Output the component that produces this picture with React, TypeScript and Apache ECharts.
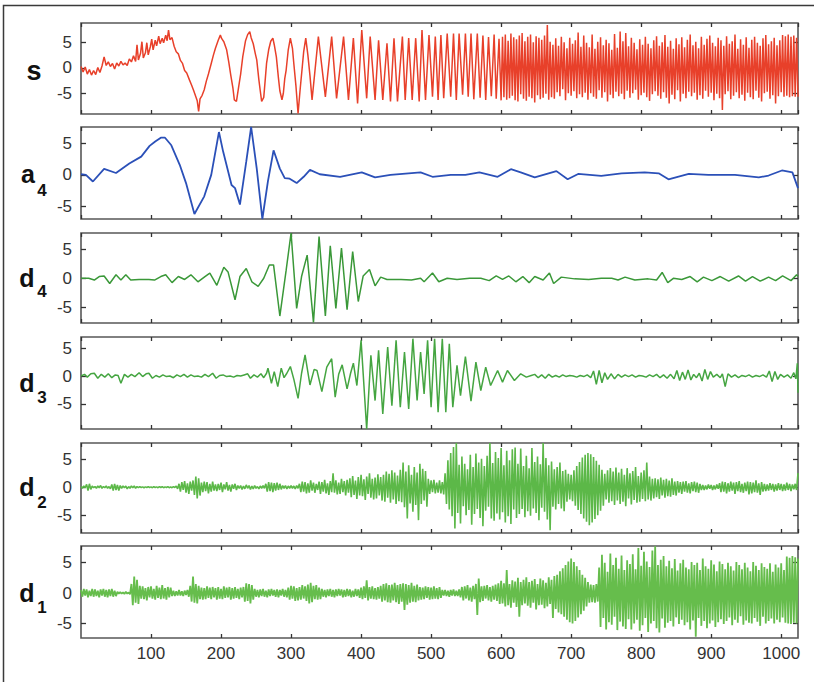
import React, { useEffect, useRef } from "react";
import * as echarts from "echarts";

const FONT = "'Liberation Sans', Arial, sans-serif";
const X_MIN = 0;
const X_MAX = 1024;
const X_INTERVAL = 100;
const Y_TICKS = [-5, 0, 5];
const STEP = 2;

const PANEL_NAMES = ["s", "a", "d", "d", "d", "d"];
const PANEL_SUBS = ["", "4", "4", "3", "2", "1"];
const Y_MIN = [-9.1, -7.0, -7.7, -9.5, -8.2, -7.4];
const Y_MAX = [8.9, 7.6, 7.8, 7.0, 7.9, 7.75];
const COLORS = ["#e8402a", "#2b50b8", "#3a9838", "#45a541", "#5cb848", "#66bd4c"];

// s : read vertices (sample index, value) up to 600, then dense part every 2 samples
const sHead: [number, number][] = [
  [0,0.3],[3,-0.8],[6,0.2],[9,-1.2],[12,-0.3],[15,-1.4],[18,-0.5],[21,-1.3],[24,0.1],[27,-0.9],
  [30,0.4],[33,2.2],[36,0.5],[39,1.2],[42,0.3],[45,0.9],[48,-0.2],[51,1.0],[54,0.4],[57,1.3],
  [60,0.6],[63,1.0],[66,0.5],[69,1.8],[72,1.2],[75,2.4],[78,1.3],[80,4.6],[82,1.6],[85,2.9],
  [87,5.2],[89,2.0],[92,3.0],[94,5.0],[96,2.6],[99,4.2],[101,5.7],[103,3.6],[106,5.5],[108,4.4],
  [111,6.3],[113,4.8],[116,5.9],[118,5.0],[121,6.5],[123,5.4],[125,7.5],[127,5.6],[130,6.0],[133,4.3],
  [136,3.2],[139,2.8],[142,1.5],[145,0.9],[148,-0.5],[151,-1.0],[155,-2.4],[158,-3.4],[161,-4.5],[164,-5.7],
  [166,-6.5],[168,-8.6],[170,-6.1],[173,-5.4],[176,-4.3],[179,-2.6],[182,-1.2],[186,0.9],[189,2.5],[192,3.9],
  [196,5.5],[199,6.5],[201,5.8],[204,5.2],[208,3.6],[211,1.2],[214,-1.5],[217,-4.0],[219,-6.3],[222,-6.6],
  [225,-3.9],[228,-1.2],[231,2.2],[235,5.4],[238,6.6],[241,7.2],[243,6.0],[246,4.8],[249,2.8],[251,1.6],
  [254,-2.3],[256,-4.5],[258,-6.6],[261,-5.8],[263,-2.5],[265,0.9],[268,3.6],[271,5.3],[274,5.9],[276,4.6],
  [279,2.2],[282,-2.0],[284,-4.5],[287,-6.3],[289,-5.0],[291,-2.1],[293,-0.4],[296,3.6],[299,5.9],[302,3.9],
  [304,0.8],[307,-3.6],[310,-9.0],[313,-4.2],[316,0.2],[318,3.2],[321,5.9],[324,2.6],[327,-1.5],[330,-6.3],
  [339,6.2],[349,-5.7],[358,6.2],[365,-6.0],[375,6.2],[382,-6.3],[389,5.9],[395,-7.0],[401,7.5],[408,-6.0],
  [413,6.2],[420,-6.3],[425,5.5],[431,-6.3],[437,4.9],[442,-6.6],[447,5.9],[452,-6.6],[459,6.2],[463,-6.3],
  [468,5.9],[473,-6.3],[478,5.9],[483,-6.6],[487,7.5],[492,-6.3],[497,6.5],[502,-5.7],[506,6.2],[510,-6.3],
  [514,6.5],[518,-6.0],[523,6.8],[528,-5.7],[532,6.8],[536,-6.3],[540,6.8],[545,-5.3],[549,6.8],[553,-5.7],
  [557,6.8],[561,-6.2],[566,6.8],[570,-5.9],[574,6.4],[578,-6.3],[582,6.1],[586,-5.6],[590,6.6],[593,-6.1],
  [597,5.8],[600,-6.4],
];
const S_TAIL_START = 602;
const sTail: number[] = [
  6.2,-5.8,6.6,-6.3,5.4,-6.0,6.8,-5.5,6.1,-6.4,
  5.7,-6.6,6.4,-5.2,6.9,-6.1,5.3,-6.5,6.2,-5.7,
  6.6,-6.0,5.1,-6.8,6.3,-5.4,6.0,-6.2,5.6,-5.9,
  6.4,-5.1,8.5,-6.3,5.2,-5.8,4.6,-6.1,5.9,-4.8,
  4.4,-5.6,6.2,-4.2,5.1,-6.4,3.9,-5.0,6.0,-5.5,
  4.8,-4.6,5.5,-6.0,7.0,-5.2,4.2,-5.8,6.4,-4.9,
  5.0,-6.3,4.1,-5.0,6.6,-5.7,3.8,-6.1,5.2,-4.4,
  6.1,-5.9,4.5,-4.8,5.6,-6.6,4.9,-5.3,3.6,-6.0,
  6.7,-4.7,4.0,-5.6,7.2,-5.1,5.3,-6.2,6.9,-4.5,
  4.3,-5.9,6.0,-5.0,5.0,-4.3,3.7,-6.3,5.7,-5.4,
  4.6,-4.9,6.2,-5.8,4.8,-6.5,3.9,-5.2,5.5,-4.6,
  6.3,-5.5,4.4,-6.1,5.1,-4.8,6.5,-5.9,4.2,-7.0,
  5.4,-5.3,3.8,-6.2,5.9,-4.4,4.7,-6.6,6.1,-5.1,
  4.1,-6.0,5.6,-4.7,6.6,-5.6,4.5,-4.9,5.2,-6.3,
  3.9,-5.4,6.2,-6.1,4.6,-4.5,5.8,-5.7,6.4,-4.9,
  5.0,-6.4,4.3,-5.1,6.0,-6.0,5.5,-8.3,4.4,-5.2,
  6.3,-4.6,4.8,-6.2,5.3,-5.5,6.6,-4.8,3.8,-6.0,
  5.7,-5.3,4.6,-6.5,6.1,-4.9,4.0,-5.8,5.6,-6.2,
  6.2,-4.5,5.0,-5.9,4.4,-6.6,5.9,-5.0,6.5,-4.7,
  4.7,-6.1,5.3,-5.4,6.0,-7.0,4.5,-5.6,5.5,-4.8,
  6.5,-5.7,6.3,-5.5,6.6,-5.8,6.2,-5.6,6.4,-5.7,
  6.0,-5.7,
];

// a4 : read vertices
const a4: [number, number][] = [
  [0,0.1],[7,0],[17,-1.05],[33,0.95],[50,0.3],[69,1.8],[86,2.9],[98,4.6],[106,5.3],[114,5.9],
  [120,5.9],[129,4.7],[141,1.6],[150,-1.3],[162,-6.2],[176,-3.4],[186,0],[197,6.8],[203,3.7],[215,-1.6],
  [220,-2.1],[227,-4.7],[236,2.1],[243,7.6],[251,1.0],[259,-7.0],[267,-1.0],[275,3.9],[284,1.0],[291,-0.5],
  [298,-0.6],[308,-1.3],[318,-0.3],[327,0.8],[341,0.1],[370,-0.3],[401,0.4],[420,-0.4],[442,0],[485,0.4],
  [502,-0.3],[528,0],[549,0],[569,0.4],[595,-0.3],[614,0.9],[628,0.4],[648,-0.4],[679,0.6],[695,-0.7],
  [710,0.15],[743,-0.15],[772,0.25],[805,0.4],[825,0.25],[839,-0.7],[868,0.15],[896,0],[934,0],[968,-0.4],
  [982,-0.1],[1001,0.7],[1016,0.4],[1024,-2.1],
];

// d4 : read vertices
const d4: [number, number][] = [
  [0,0],[11,0],[19,-0.3],[26,0.3],[33,0.4],[41,-0.9],[50,0.6],[57,-0.3],[64,0.6],[71,-0.3],
  [83,-0.2],[97,-0.2],[105,-0.3],[114,0.3],[121,0.6],[130,-0.75],[139,0.3],[148,-0.2],[157,0.6],[167,-0.6],
  [177,0.3],[184,0.9],[194,-1.2],[204,1.9],[210,1.1],[220,-3.7],[227,0.3],[236,1.7],[244,-0.6],[253,-1.4],
  [261,0],[269,2.3],[275,2.3],[284,-6.5],[293,1.4],[300,7.8],[308,-5.2],[315,0.3],[323,4.0],[332,-7.6],
  [340,7.2],[349,-6.5],[356,5.6],[364,-5.2],[372,5.2],[380,-5.4],[388,4.6],[396,-4.0],[403,0.4],[412,1.5],
  [420,-1.3],[428,0.2],[437,-0.2],[457,-0.2],[472,-0.3],[485,0],[490,-0.6],[502,0.9],[511,-0.6],[523,0],
  [537,-0.2],[555,0],[571,0],[583,-0.4],[593,0.4],[602,-0.2],[611,0.4],[621,-0.6],[631,0.3],[640,-0.75],
  [648,0.3],[660,-0.3],[669,0.9],[675,-0.9],[686,0.2],[705,-0.1],[725,-0.2],[743,0],[758,0],[767,-0.3],
  [777,0.2],[791,-0.3],[810,-0.1],[822,-0.3],[830,1.0],[838,-0.75],[846,0],[858,-0.2],[870,0.3],[880,-0.6],
  [889,0.2],[901,-0.4],[913,0.3],[925,-0.5],[939,0.4],[949,-0.5],[959,0.3],[970,-0.5],[982,0.2],[992,-0.4],
  [1002,0.4],[1014,-0.4],[1022,0.6],[1024,0.3],
];

// d3 : read vertices
const d3: [number, number][] = [
  [0,0],[5,0.3],[9,-0.2],[14,0.4],[19,0.5],[24,-0.4],[29,0.3],[34,-0.2],[39,0.4],[44,-0.3],
  [49,0.2],[53,0.1],[57,-1.3],[62,0.3],[67,-0.2],[72,0.3],[77,-0.1],[83,0.6],[88,-0.1],[93,0.4],
  [97,0.5],[102,-0.4],[107,0.1],[112,-0.2],[117,0.2],[122,-0.1],[127,0],[132,-0.3],[137,0.2],[142,-0.1],
  [147,0.3],[152,-0.2],[157,0.2],[162,-0.1],[167,0],[172,-0.2],[177,0.3],[182,-0.1],[188,0.5],[193,-0.4],
  [198,0.1],[203,0.2],[208,-0.1],[213,0],[218,-0.2],[223,0.1],[228,0],[233,0.2],[238,0.4],[242,-0.4],
  [247,0.2],[252,-0.2],[257,0.4],[261,-0.3],[265,0.5],[267,1.4],[272,-1.3],[276,0.8],[281,-1.9],[286,1.4],
  [290,-0.3],[294,0.5],[299,1.7],[304,-0.6],[310,-4.0],[315,0.5],[320,3.8],[327,-1.6],[333,1.2],[337,1.0],
  [344,-2.8],[351,1.6],[358,3.1],[363,-3.8],[368,0.3],[373,2.0],[380,-2.3],[385,0.5],[389,2.3],[394,-1.7],
  [400,6.4],[408,-9.5],[414,3.7],[420,-4.4],[425,4.6],[431,-6.8],[438,5.2],[444,-5.3],[450,6.4],[456,-5.6],
  [462,4.3],[468,-5.9],[474,6.7],[480,-4.4],[485,4.3],[490,-3.2],[495,6.4],[500,-5.6],[505,6.7],[510,-6.5],
  [516,6.7],[521,-6.5],[526,5.8],[531,-5.6],[537,1.9],[542,-3.5],[549,3.5],[557,-4.5],[564,2.5],[571,-2.6],
  [578,1.6],[585,-1.7],[595,1.0],[602,-1.1],[609,1.0],[619,-0.8],[628,0.4],[636,-0.2],[643,0.1],[648,0.3],
  [653,-0.3],[658,0.2],[663,-0.4],[668,0.3],[673,-0.2],[678,0.1],[683,-0.2],[688,0.2],[693,-0.1],[698,0.1],
  [703,0],[708,-0.2],[713,0.1],[718,-0.1],[723,0.2],[728,-0.3],[732,0.9],[736,-1.5],[740,1.0],[744,-1.2],
  [748,0.6],[752,-0.6],[757,0.4],[762,-0.5],[767,0.3],[772,-0.2],[777,0.2],[782,-0.1],[787,0.2],[792,-0.2],
  [797,0.1],[802,0],[807,-0.2],[812,0.2],[817,-0.1],[822,0.3],[827,-0.3],[832,0.2],[837,-0.4],[842,0.3],
  [847,-0.5],[851,1.0],[855,-0.8],[859,0.7],[863,-0.6],[867,1.1],[871,-0.7],[875,0.3],[879,-0.3],[883,0.5],
  [887,-0.9],[891,1.2],[895,-0.6],[899,0.8],[903,-0.2],[908,0.3],[913,-0.3],[916,0.4],[920,-1.9],[924,0.4],
  [929,-0.2],[934,0.2],[939,-0.3],[944,0.1],[949,-0.1],[954,0.2],[959,-0.2],[964,0.1],[969,-0.1],[974,0.2],
  [979,-0.2],[983,0.9],[987,-1.0],[991,0.8],[995,-0.6],[999,0.3],[1004,-0.2],[1009,0.2],[1014,-0.4],[1018,0.6],
  [1021,-0.5],[1023,2.3],[1024,-3.0],
];

// d2 : one value every 2 samples from 0 to 1024
const d2: number[] = [
  0.1,-0.2,0.2,-0.1,0.5,-0.6,0.6,-0.4,0.2,-0.1,
  0.1,-0.2,0.2,-0.1,0.3,-0.2,0.1,-0.1,0.2,-0.2,
  0.1,-0.3,0.5,-0.6,0.6,-0.5,0.4,-0.6,0.3,-0.2,
  0.2,-0.1,0.2,-0.3,0.1,-0.2,0.2,-0.1,0.2,-0.2,
  0.1,-0.1,0.1,-0.05,0.05,-0.1,0.05,-0.05,0.1,-0.05,
  0.05,-0.1,0.1,-0.05,0.05,-0.1,0.1,-0.05,0.1,-0.1,
  0.05,-0.05,0.1,-0.1,0.05,-0.1,0.1,-0.05,0.2,-0.3,
  0.6,-0.8,0.9,-0.5,1.1,-1.0,0.7,-1.2,1.0,-0.6,
  1.2,-1.4,1.9,-2.0,1.6,-1.5,0.8,-0.9,1.0,-0.7,
  0.9,-1.1,0.6,-0.8,1.0,-0.6,0.5,-0.7,0.6,-0.5,
  0.8,-0.9,0.5,-0.4,0.9,-0.6,0.4,-0.8,0.5,-0.3,
  0.6,-0.5,0.3,-0.2,0.3,-0.4,0.2,-0.3,0.4,-0.2,
  0.3,-0.4,0.2,-0.3,0.3,-0.2,0.1,-0.3,0.2,-0.2,
  0.3,-0.2,0.6,-0.8,0.9,-0.7,0.8,-0.9,0.7,-0.6,
  0.8,-0.5,0.6,-0.4,0.3,-0.2,0.3,-0.3,0.2,-0.2,
  0.3,-0.2,0.2,-0.3,0.3,-0.2,0.6,-0.9,1.0,-0.8,
  0.9,-1.1,0.7,-1.0,1.2,-0.6,0.8,-1.0,0.6,-0.5,
  1.0,-1.2,0.9,-0.8,1.3,-1.1,0.7,-1.4,1.1,-0.9,
  2.5,-1.0,1.2,-1.3,0.8,-1.2,1.5,-0.9,1.1,-1.5,
  1.3,-1.0,1.6,-1.8,2.0,-1.4,1.2,-2.1,1.8,-1.5,
  2.2,-1.6,1.4,-2.3,1.9,-1.2,2.5,-1.9,1.5,-2.2,
  1.7,-2.0,2.3,-1.5,1.8,-2.4,2.2,-2.6,2.8,-1.9,
  2.4,-2.8,3.0,-2.2,2.6,-3.0,2.1,-2.5,3.1,-2.7,
  4.4,-3.6,2.8,-5.6,3.9,-2.9,2.2,-4.4,3.6,-3.2,
  2.6,-5.9,4.2,-3.0,3.3,-2.4,2.9,-3.5,1.5,-1.2,
  1.2,-0.9,1.3,-1.1,0.8,-1.0,1.2,-1.1,0.9,-1.3,
  2.5,-3.0,4.8,-4.0,6.1,-5.2,7.2,-7.4,7.9,-4.6,
  4.0,-6.5,5.5,-3.4,4.2,-5.0,3.2,-4.1,5.8,-6.7,
  3.6,-4.8,6.0,-3.9,4.4,-5.5,5.1,-7.0,3.8,-4.2,
  5.6,-3.5,7.9,-5.6,4.3,-6.0,6.3,-4.7,5.2,-5.8,
  7.0,-4.5,3.9,-6.3,6.5,-5.2,4.8,-6.6,6.8,-4.0,
  7.1,-5.5,4.2,-4.8,6.9,-3.9,3.8,-5.4,5.6,-4.3,
  3.4,-5.1,7.0,-3.8,4.5,-4.6,5.5,-5.9,4.1,-3.7,
  7.9,-4.4,5.2,-5.8,3.9,-7.7,4.6,-3.5,3.2,-4.0,
  3.6,-3.0,4.4,-3.8,2.9,-4.3,3.1,-2.6,2.4,-2.2,
  2.2,-2.5,3.0,-3.3,3.8,-4.1,4.5,-4.8,5.3,-5.6,
  5.8,-6.2,6.1,-6.8,5.9,-6.3,5.4,-5.7,4.7,-5.0,
  4.0,-4.2,3.1,-3.3,2.4,-2.2,3.0,-2.8,3.4,-2.5,
  2.8,-3.2,3.5,-2.4,2.6,-3.0,3.3,-2.6,2.2,-3.4,
  3.4,-2.0,2.5,-3.1,2.9,-2.3,3.6,-2.8,2.0,-2.6,
  2.6,-2.1,3.0,-2.5,4.4,-2.2,1.9,-2.4,1.5,-2.0,
  1.6,-1.8,1.4,-2.1,1.7,-1.5,1.3,-1.9,1.5,-1.6,
  1.2,-1.7,1.6,-1.4,1.0,-1.5,1.1,-1.0,0.9,-1.2,
  1.0,-0.8,1.1,-1.0,0.7,-1.1,0.9,-0.7,1.0,-0.9,
  0.8,-1.0,0.6,-0.5,0.4,-0.5,0.3,-0.4,0.5,-0.3,
  0.4,-0.5,0.3,-0.4,0.5,-0.3,0.7,-0.9,1.0,-0.8,
  0.9,-1.1,0.7,-0.8,1.0,-0.6,0.8,-1.2,0.9,-0.7,
  1.1,-0.9,0.6,-1.0,0.8,-0.7,1.0,-1.3,0.9,-1.1,
  0.8,-0.9,1.2,-1.0,0.7,-1.4,0.9,-0.8,0.6,-0.7,
  0.5,-0.6,0.7,-0.5,0.6,-0.8,0.5,-0.6,0.7,-0.5,
  0.6,-0.7,0.5,-0.6,0.8,-0.5,0.6,-0.7,0.5,-0.4,
  0.6,-0.5,2.5,
];

// d1 : one value every 2 samples from 0 to 1024
const d1: number[] = [
  0.5,-0.6,0.7,-0.4,0.6,-0.7,0.4,-0.5,0.7,-0.6,
  0.6,-0.5,0.4,-0.7,0.6,-0.4,0.7,-0.6,0.5,-0.7,
  0.6,-0.5,0.7,-0.6,0.4,-0.5,0.2,-0.1,0.15,-0.1,
  0.1,-0.15,0.2,-0.1,0.1,-0.2,1.5,-2.0,2.7,-1.6,
  2.2,-1.8,1.2,-0.9,1.1,-1.0,0.8,-1.2,1.0,-0.7,
  1.1,-0.9,0.7,-1.1,1.2,-0.8,0.9,-1.0,1.3,-0.9,
  0.8,-1.1,1.0,-0.7,0.9,-0.5,0.4,-0.5,0.3,-0.4,
  0.5,-0.4,0.3,-0.5,0.4,-0.3,0.5,-0.6,1.2,-1.4,
  2.7,-1.6,1.5,-1.7,1.2,-1.0,0.9,-1.1,0.8,-1.0,
  1.1,-0.8,0.9,-1.0,1.0,-0.7,0.8,-1.1,1.0,-0.9,
  0.7,-1.0,1.1,-0.8,0.9,-0.7,1.0,-1.1,0.8,-0.9,
  1.0,-0.8,0.7,-1.0,0.9,-0.7,1.0,-1.4,1.6,-1.3,
  1.5,-1.7,1.3,-1.1,0.7,-0.6,0.5,-0.7,0.6,-0.5,
  0.7,-0.6,0.4,-0.7,0.6,-0.5,0.7,-0.4,0.5,-0.6,
  0.6,-0.7,0.5,-0.4,0.7,-0.6,0.5,-0.7,0.9,-1.1,
  1.2,-0.9,1.1,-1.3,0.8,-1.2,1.0,-1.1,1.3,-0.9,
  1.1,-1.3,1.4,-1.7,1.7,-1.5,1.2,-1.0,1.3,-1.1,
  0.9,-1.0,0.7,-0.6,0.5,-0.7,0.6,-0.5,0.7,-0.6,
  0.5,-0.7,0.6,-0.5,0.7,-0.4,0.6,-0.7,0.5,-0.6,
  0.7,-0.5,0.6,-0.7,0.4,-0.6,0.7,-0.5,0.6,-0.8,
  0.9,-1.0,1.1,-0.8,2.1,-1.2,1.0,-0.9,1.1,-1.0,
  0.8,-1.1,1.0,-0.9,1.2,-1.4,1.5,-1.2,1.6,-1.5,
  1.3,-1.6,1.4,-1.2,1.7,-1.5,1.3,-1.8,1.5,-1.4,
  1.6,-2.8,1.5,-1.9,1.3,-1.6,1.7,-1.4,1.2,-1.5,
  1.4,-1.2,1.0,-1.1,0.9,-1.0,1.1,-0.8,1.0,-1.1,
  0.9,-1.0,1.1,-0.9,0.8,-1.0,1.0,-0.8,0.5,-0.4,
  0.5,-0.5,0.4,-0.6,0.5,-0.4,0.6,-0.5,0.4,-0.5,
  0.6,-0.7,1.0,-1.2,1.1,-0.9,1.3,-1.2,0.9,-1.4,
  1.2,-1.0,1.5,-3.6,2.4,-1.5,1.1,-1.3,1.2,-0.9,
  1.3,-1.2,1.0,-1.4,1.2,-1.1,1.4,-1.3,1.6,-1.8,
  2.0,-1.7,1.6,-2.2,3.8,-2.0,1.5,-2.4,2.1,-1.6,
  1.9,-2.3,2.5,-3.9,1.8,-2.0,2.2,-1.7,2.6,-2.1,
  1.8,-2.4,2.0,-1.6,2.3,-2.7,1.5,-2.0,2.4,-1.9,
  2.1,-2.5,1.7,-2.2,2.6,-1.8,2.2,-4.1,2.8,-2.6,
  3.0,-3.2,3.6,-3.5,4.1,-3.9,4.6,-4.4,5.2,-4.8,
  5.7,-5.0,5.1,-4.6,4.4,-4.0,3.8,-3.5,3.0,-2.9,
  2.5,-2.2,1.8,-1.6,1.4,-1.5,1.3,-1.6,1.5,-1.4,
  4.2,-5.6,6.3,-4.1,5.0,-6.0,3.5,-4.8,6.5,-5.2,
  4.6,-3.9,5.8,-6.1,4.0,-4.7,6.2,-5.5,3.8,-5.9,
  5.4,-4.3,4.8,-6.0,6.4,-5.0,3.9,-4.4,7.4,-6.2,
  4.5,-5.3,6.8,-4.1,5.2,-6.4,4.3,-5.0,7.0,-4.6,
  7.7,-5.8,4.6,-6.5,5.5,-4.2,6.1,-5.7,4.4,-4.9,
  5.3,-4.6,4.1,-5.5,5.6,-4.0,3.7,-5.1,4.9,-4.4,
  5.5,-5.3,4.2,-4.8,3.9,-6.0,5.1,-4.5,4.6,-7.2,
  5.0,-4.1,3.8,-5.4,5.7,-4.6,4.4,-5.8,4.0,-5.0,
  5.4,-4.5,4.7,-5.6,3.6,-4.8,5.2,-4.3,4.8,-5.1,
  3.9,-4.6,5.0,-4.0,4.4,-5.3,3.7,-4.4,5.1,-4.9,
  4.6,-3.8,3.9,-5.2,5.0,-4.5,4.2,-4.9,3.6,-5.0,
  5.1,-4.1,4.5,-4.7,3.8,-5.4,4.9,-3.9,4.3,-5.0,
  4.0,-4.6,4.9,-4.2,3.5,-5.0,4.7,-4.4,4.2,-4.8,
  4.9,-4.0,3.8,-4.9,6.0,-5.0,5.8,-5.1,6.1,-4.9,
  5.9,-5.0,5.7,
];

// layout
const GRID_LEFT = 81;
const GRID_WIDTH = 717;
const GRID_TOPS = [23, 127, 233, 337, 443, 546];
const GRID_HEIGHTS = [91, 92, 90, 92, 90, 92];
const MAIN_POS = [[34, 71], [28, 174], [27, 278], [27, 383], [27, 487], [27, 593]];
const SUB_POS = [[0, 0], [42, 190], [42, 291], [42, 397], [42, 502], [42, 607]];
const LINE_WIDTHS = [1.5, 1.8, 1.5, 1.5, 1.6, 1.8];

const toPairs = (vals: number[], start: number) => vals.map((v, i) => [start + i * STEP, v]);

export default function App() {
  const ref = useRef<HTMLDivElement>(null);
  useEffect(() => {
    if (!ref.current) return;
    const chart = echarts.init(ref.current, undefined, { renderer: "svg" });
    const seriesData = [
      [...sHead, ...toPairs(sTail, S_TAIL_START)],
      a4,
      d4,
      d3,
      toPairs(d2, 0),
      toPairs(d1, 0),
    ];
    const tickStyle = { color: "#333", width: 1.3 };
    const grids: any[] = [];
    const xAxes: any[] = [];
    const yAxes: any[] = [];
    const series: any[] = [];
    GRID_TOPS.forEach((top, i) => {
      grids.push({
        left: GRID_LEFT,
        width: GRID_WIDTH,
        top,
        height: GRID_HEIGHTS[i],
        show: true,
        borderColor: "#585858",
        borderWidth: 1.6,
        backgroundColor: "rgba(0,0,0,0)",
      });
      const xBase = {
        type: "value",
        gridIndex: i,
        min: X_MIN,
        max: X_MAX,
        interval: X_INTERVAL,
        splitLine: { show: false },
        axisLine: { show: false, onZero: false },
        axisTick: { show: true, inside: true, length: 4, lineStyle: tickStyle },
      };
      xAxes.push({
        ...xBase,
        position: "bottom",
        axisLabel: {
          show: i === GRID_TOPS.length - 1,
          fontSize: 17,
          fontFamily: FONT,
          color: "#333",
          margin: 7,
          showMinLabel: false,
          showMaxLabel: false,
          formatter: (v: number) => (v > 0 && v % 100 === 0 ? String(v) : ""),
        },
      });
      xAxes.push({ ...xBase, position: "top", axisLabel: { show: false } });
      const yBase = {
        type: "value",
        gridIndex: i,
        min: Y_MIN[i],
        max: Y_MAX[i],
        splitLine: { show: false },
        axisLine: { show: false, onZero: false },
        axisTick: { show: true, inside: true, length: 5, customValues: Y_TICKS, lineStyle: tickStyle },
      };
      yAxes.push({
        ...yBase,
        position: "left",
        axisLabel: { show: true, customValues: Y_TICKS, fontSize: 17, fontFamily: FONT, color: "#333", margin: 9 },
      });
      yAxes.push({ ...yBase, position: "right", axisLabel: { show: false } });
      series.push({
        type: "line",
        xAxisIndex: 2 * i,
        yAxisIndex: 2 * i,
        data: seriesData[i],
        showSymbol: false,
        symbol: "none",
        silent: true,
        clip: true,
        lineStyle: { color: COLORS[i], width: LINE_WIDTHS[i] },
      });
    });

    const graphics: any[] = [
      {
        type: "rect",
        shape: { x: 3.5, y: 5.5, width: 900, height: 800 },
        style: { fill: "none", stroke: "#3a3a3a", lineWidth: 1.5 },
        silent: true,
      },
    ];
    PANEL_NAMES.forEach((name, i) => {
      graphics.push({
        type: "text",
        x: MAIN_POS[i][0],
        y: MAIN_POS[i][1],
        style: {
          text: name,
          font: `bold ${i === 0 ? 27 : 25}px ${FONT}`,
          fill: "#111",
          textAlign: "center",
          textVerticalAlign: "middle",
        },
        silent: true,
      });
      if (PANEL_SUBS[i]) {
        graphics.push({
          type: "text",
          x: SUB_POS[i][0],
          y: SUB_POS[i][1],
          style: {
            text: PANEL_SUBS[i],
            font: `bold 17px ${FONT}`,
            fill: "#111",
            textAlign: "center",
            textVerticalAlign: "middle",
          },
          silent: true,
        });
      }
    });

    chart.setOption({
      animation: false,
      backgroundColor: "#ffffff",
      grid: grids,
      xAxis: xAxes,
      yAxis: yAxes,
      series,
      graphic: graphics,
    });
    return () => chart.dispose();
  }, []);
  return (
    <div
      ref={ref}
      style={{ position: "fixed", left: 0, top: 0, width: 814, height: 682 }}
    />
  );
}
